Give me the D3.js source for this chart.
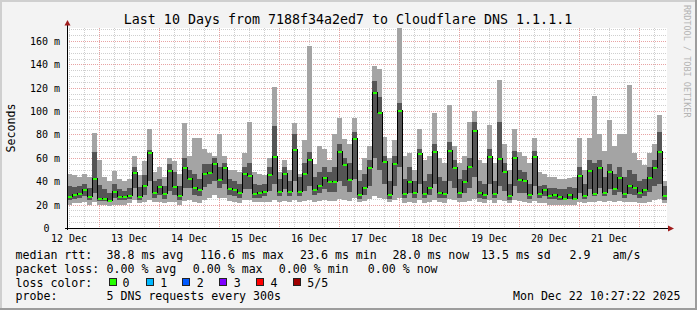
<!DOCTYPE html>
<html><head><meta charset="utf-8">
<script src="https://cdn.jsdelivr.net/npm/d3@7"></script>
<style>
html,body{margin:0;padding:0;background:#f3f3f3;}
svg{display:block;}
text{font-family:"DejaVu Sans Mono",monospace;}
</style></head><body>
<svg id="c" width="697" height="310"></svg>
<script>
// ---- data (2-hour buckets, values in ms) ----
const startTime = Date.UTC(2025, 11, 12, 11, 12, 0);
const stepHours = 2;
const median = [27,29,30,33,27,43,26,26,24,32, 27,27,28,48,27,37,65,31,36,30,
  50,36,28,52,43,35,33,47,48,56, 42,52,34,33,31,47,45,30,31,32,
  46,62,32,47,32,68,32,47,59,33, 37,44,40,40,66,55,42,77,29,35,
  52,116.6,99.5,57,29,56,101,30,40,31, 64,30,35,66,31,30,67,52,31,40,
  53,84,31,29,62,30,60,49,28,61, 42,41,29,62,30,33,28,29,27,26,
  29,26,45,28,50,30,52,31,49,34, 44,30,37,35,31,33,44,52,66,28];
const pingMin = [20,21,21,22,20,22,20,20,19,20, 20,20,21,24,21,22,24,22,22,21,
  22,22,20,23,24,22,21,24,26,28, 26,26,23,22,21,24,24,22,22,22,
  22,24,22,23,22,24,22,23,24,22, 23,24,23,23,25,24,23,26,22,23,
  25,27,26,25,22,24,26,21,22,21, 24,21,22,24,22,21,25,24,22,22,
  23,25,22,21,24,21,24,23,21,24, 23,22,21,23,21,21,20,20,20,20,
  20,20,22,21,22,22,23,22,23,22, 23,22,22,22,21,21,22,24,25,21];
const pingLow = [24,25,26,27,24,30,23,23,22,26, 24,24,25,34,24,28,40,26,28,25,
  32,28,24,34,34,28,27,35,38,40, 34,38,28,27,26,33,33,26,26,27,
  32,38,27,33,27,40,27,32,36,28, 30,33,31,31,40,36,31,42,25,28,
  36,60,50,38,25,36,52,26,30,26, 38,26,28,38,26,26,40,34,26,30,
  34,44,26,25,38,26,36,32,24,36, 30,30,25,36,26,27,25,25,24,24,
  25,24,30,25,33,27,34,27,33,28, 31,26,29,28,26,27,31,36,38,24];
const pingHigh = [36,35,36,38,34,65,37,33,30,38, 33,32,34,52,35,45,67,40,42,36,
  55,48,36,60,50,46,42,55,55,60, 52,56,42,40,38,52,56,38,37,38,
  52,87,42,52,40,80,44,56,65,44, 48,52,48,52,72,60,56,82,40,46,
  58,126,112,62,40,62,107,42,52,40, 68,40,46,72,44,40,74,58,42,50,
  60,91,40,38,68,40,91,56,38,66, 50,48,38,66,36,37,34,34,33,33,
  35,34,52,38,58,56,58,44,55,46, 52,44,50,46,40,42,52,58,82,36];
const pingMax = [46,45,44,46,44,81,58,44,40,49, 42,40,42,62,45,57,85,48,52,44,
  60,57,46,90,62,77,77,68,64,62, 80,62,50,50,48,64,91,48,46,45,
  60,121,48,58,50,90,46,75,156,55, 70,68,58,80,94,76,72,94,50,60,
  70,139,136,78,60,75,171,62,64,50, 85,58,62,98,60,56,105,70,56,62,
  91,100,58,56,88,56,127,72,50,85, 65,62,56,77,48,46,44,44,42,42,
  43,44,77,50,77,113,80,66,92,70, 80,80,122,64,58,54,64,72,97,40];
const yTickValues = [0,20,40,60,80,100,120,140,160];
const dayLabels = ["12 Dec","13 Dec","14 Dec","15 Dec","16 Dec","17 Dec","18 Dec","19 Dec","20 Dec","21 Dec"];
const legendRows = [
  [["median rtt:",16],["38.8 ms avg",107],["116.6 ms max",200.5],["23.6 ms min",300.5],["28.0 ms now",393],["13.5 ms sd",481.5],["2.9",570],["am/s",613]],
  [["packet loss:",16],["0.00 % avg",107],["0.00 % max",193.3],["0.00 % min",279.3],["0.00 % now",368.3]],
  [["loss color:",16]],
  [["probe:",16],["5 DNS requests every 300s",107]]
];
const lossLabels = ["0","1","2","3","4","5/5"];
const lossColors = ["#26ff00","#00b8ff","#0059ff","#7e00ff","#ff0000","#a00000"];
const stampText = "Mon Dec 22 10:27:22 2025";

// ---- drawing ----
const svg = d3.select("#c");
const W = 697, H = 310;
const L = 67, R = 667, T = 28, B = 228;
const HOUR = 3600e3;
const endTime = startTime + 240 * HOUR;
const x = d3.scaleUtc().domain([startTime, endTime]).range([L, R]);
const y = d3.scaleLinear().domain([0, 171.1]).range([B, T]);

svg.append("rect").attr("width", W).attr("height", H).attr("fill", "#f3f3f3");
svg.append("rect").attr("x",0).attr("y",0).attr("width",W).attr("height",2).attr("fill","#cfcfcf");
svg.append("rect").attr("x",0).attr("y",0).attr("width",2).attr("height",H).attr("fill","#cfcfcf");
svg.append("rect").attr("x",W-2).attr("y",0).attr("width",2).attr("height",H).attr("fill","#9c9c9c");
svg.append("rect").attr("x",0).attr("y",H-2).attr("width",W).attr("height",2).attr("fill","#9c9c9c");

svg.append("rect").attr("x", L).attr("y", T).attr("width", R - L).attr("height", B - T).attr("fill", "#ffffff");

// grid
const g = svg.append("g");
const minorY = d3.range(5, 171, 5).filter(v => v % 20 !== 0);
g.selectAll(".hmin").data(minorY).enter().append("line")
  .attr("x1", L).attr("x2", R).attr("y1", d => Math.round(y(d)) + 0.5).attr("y2", d => Math.round(y(d)) + 0.5)
  .attr("stroke", "#cfcfcf").attr("stroke-dasharray", "1,1");
const hours6 = d3.utcHour.every(6).range(startTime, endTime).filter(d => d.getUTCHours() !== 0);
g.selectAll(".vmin").data(hours6).enter().append("line")
  .attr("y1", T).attr("y2", B).attr("x1", d => Math.round(x(d)) + 0.5).attr("x2", d => Math.round(x(d)) + 0.5)
  .attr("stroke", "#cfcfcf").attr("stroke-dasharray", "1,1");
g.selectAll(".hmaj").data(yTickValues.filter(v => v > 0)).enter().append("line")
  .attr("x1", L).attr("x2", R).attr("y1", d => Math.round(y(d)) + 0.5).attr("y2", d => Math.round(y(d)) + 0.5)
  .attr("stroke", "#e8a3a3").attr("stroke-dasharray", "1,1");
const days = d3.utcDay.range(startTime, endTime);
g.selectAll(".vmaj").data(days).enter().append("line")
  .attr("y1", T).attr("y2", B).attr("x1", d => Math.round(x(d)) + 0.5).attr("x2", d => Math.round(x(d)) + 0.5)
  .attr("stroke", "#e8a3a3").attr("stroke-dasharray", "1,1");

// smoke
const idx = d3.range(median.length);
const t0 = i => startTime + i * stepHours * HOUR;
const t1 = i => startTime + (i + 1) * stepHours * HOUR;
const sm = svg.append("g").attr("shape-rendering", "crispEdges");
sm.selectAll(".light").data(idx).enter().append("rect")
  .attr("x", i => x(t0(i))).attr("width", i => x(t1(i)) - x(t0(i)))
  .attr("y", i => y(pingMax[i])).attr("height", i => y(pingMin[i]) - y(pingMax[i]))
  .attr("fill", "#a4a4a4");
sm.selectAll(".dark").data(idx).enter().append("rect")
  .attr("x", i => x(t0(i))).attr("width", i => x(t1(i)) - x(t0(i)))
  .attr("y", i => y(pingHigh[i])).attr("height", i => y(pingLow[i]) - y(pingHigh[i]))
  .attr("fill", "#555555");

// median step line
const pts = idx.map(i => [t0(i), median[i]]);
pts.push([endTime, median[median.length - 1]]);
const line = d3.line().x(d => x(d[0])).y(d => Math.round(y(d[1])) + 0.5).curve(d3.curveStepAfter);
svg.append("path").attr("d", line(pts)).attr("fill", "none").attr("stroke", "#000").attr("stroke-width", 1)
  .attr("shape-rendering", "crispEdges");
svg.append("g").attr("shape-rendering", "crispEdges").selectAll("line").data(idx).enter().append("line")
  .attr("x1", i => x(t0(i)) + 0.5).attr("x2", i => x(t1(i)) - 0.5)
  .attr("y1", i => Math.round(y(median[i])) + 0.5).attr("y2", i => Math.round(y(median[i])) + 0.5)
  .attr("stroke", lossColors[0]).attr("stroke-width", 2);

// axes
svg.append("line").attr("x1", L + 0.5).attr("x2", L + 0.5).attr("y1", B + 2).attr("y2", 23).attr("stroke", "#000");
svg.append("line").attr("x1", L - 2).attr("x2", 669).attr("y1", B + 0.5).attr("y2", B + 0.5).attr("stroke", "#000");
svg.append("path").attr("d", `M${L - 2.5},25.5L${L + 3.5},25.5L${L + 0.5},20Z`).attr("fill", "#a01c1c");
svg.append("path").attr("d", `M668,${B - 2.5}L668,${B + 3.5}L674,${B + 0.5}Z`).attr("fill", "#a01c1c");

// y labels
svg.append("g").selectAll("text").data(yTickValues).enter().append("text")
  .attr("x", d => d === 0 ? 49.5 : 60).attr("y", d => Math.round(y(d)) + 3.8)
  .attr("text-anchor", "end").attr("font-size", "10px").attr("fill", "#000")
  .text(d => d === 0 ? "0" : d + " m");
// x labels
svg.append("g").selectAll("text").data(dayLabels).enter().append("text")
  .attr("x", (d, i) => x(Date.UTC(2025, 11, 12 + i, 12))).attr("y", 242)
  .attr("text-anchor", "middle").attr("font-size", "10px").attr("fill", "#000")
  .text(d => d);

// title etc
svg.append("text").attr("x", 348).attr("y", 24).attr("text-anchor", "middle").attr("font-size", "13.3px")
  .text("Last 10 Days from 7188f34a2ed7 to Cloudflare DNS 1.1.1.1");
svg.append("text").attr("transform", "translate(14.5,128) rotate(-90)").attr("text-anchor", "middle")
  .attr("font-size", "11.6px").text("Seconds");
svg.append("text").attr("transform", "translate(684,5) rotate(90)").attr("font-size", "8.5px")
  .attr("fill", "#b4b4b4").text("RRDTOOL / TOBI OETIKER");

// legend
const baselines = [258.5, 272.5, 286.5, 300.3];
legendRows.forEach((row, r) => {
  row.forEach(([s, px]) => {
    svg.append("text").attr("x", px - 0.5).attr("y", baselines[r]).attr("font-size", "11.6px")
      .attr("xml:space", "preserve").text(s);
  });
});
const sqX = [108.7, 145.7, 182.3, 219.3, 256, 292.7];
const lblX = [123, 160.7, 197.3, 234.3, 271, 307.7];
lossLabels.forEach((l, i) => {
  svg.append("rect").attr("x", Math.round(sqX[i]) + 0.5).attr("y", 278.5).attr("width", 7).attr("height", 7)
    .attr("fill", lossColors[i]).attr("stroke", "#222");
  svg.append("text").attr("x", lblX[i] - 0.5).attr("y", baselines[2]).attr("font-size", "11.6px").text(l);
});
svg.append("text").attr("x", 680.5).attr("y", baselines[3]).attr("text-anchor", "end").attr("font-size", "11.6px").text(stampText);
</script>
</body></html>
